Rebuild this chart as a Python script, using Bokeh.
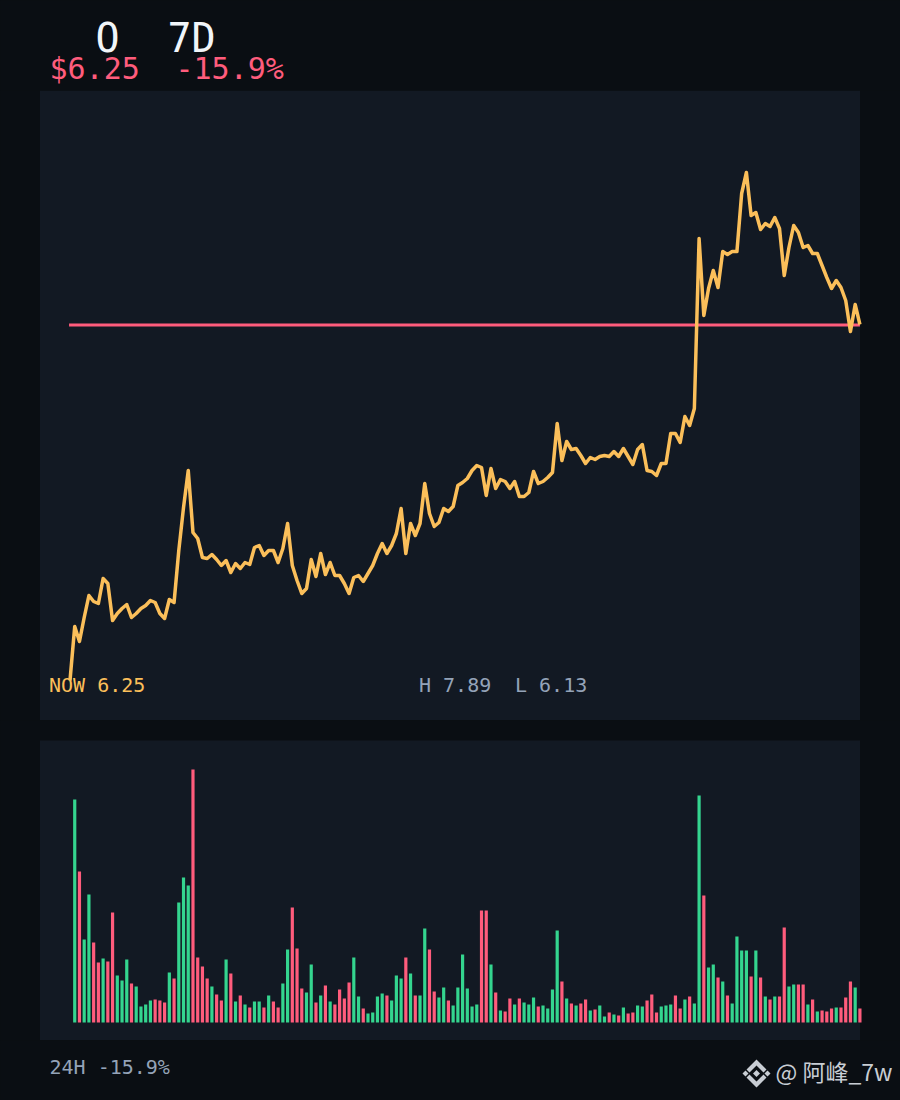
from bokeh.plotting import figure
from bokeh.layouts import column
from bokeh.models import Range1d, Label, BoxAnnotation
from bokeh.embed import file_html
from bokeh.resources import INLINE

# ---- data (price in chart units, volume in chart units) ----
price = [40,94,79,103,125,119,117,142,137,100,107,112,116,103,107,112,115,120,118,107,
         102,121,118,170,213,250,188,182,163,162,166,161,155,160,148,157,152,158,156,173,
         175,165,170,170,158,172,197,155,140,127,132,161,144,167,146,158,145,145,137,127,
         143,145,139,147,155,167,177,167,175,187,212,167,197,185,197,237,207,194,198,212,
         209,214,235,238,242,250,255,253,225,252,232,241,239,232,239,224,224,228,249,237,
         239,243,248,297,260,279,271,272,265,257,263,261,264,265,264,269,264,272,264,256,
         271,276,250,249,245,257,257,287,287,278,304,295,312,482,405,432,450,433,469,466,
         469,469,527,548,505,508,491,497,494,503,492,445,473,495,488,473,475,467,467,455,
         443,432,440,433,420,389,416,396]
reference_price = 395.5

volume = [223,151,83,128,80,60,64,61,110,47,42,63,39,36,16,18,22,23,22,20,
          50,44,120,145,137,253,65,56,44,36,28,22,63,49,21,27,18,15,21,21,
          15,27,21,15,39,73,115,74,34,30,58,20,27,37,21,18,33,24,40,65,
          26,14,9,10,26,29,27,22,47,44,65,49,27,27,94,73,31,25,35,22,
          17,35,68,34,16,18,112,112,58,30,12,11,24,18,24,20,18,25,16,17,
          14,33,92,41,24,19,17,19,23,12,13,17,6,10,8,7,15,9,10,17,
          16,22,28,10,16,17,18,27,14,23,26,19,227,127,55,58,45,41,27,19,
          86,72,72,46,72,45,26,23,26,26,95,36,38,38,38,18,23,11,12,11,
          14,15,15,25,41,35,14]
direction = list("GRGGRRGRRGGGRGGGGRRR" "GRGGGRRRRGRRGRGRGRGG" "RGRRGGRRRGGRGRGRRRRG"
                 "GRGGGGRGGGRGRGGRRGGR" "GGGGGGRRGRGRRGRGGGRG" "GGGRGRGRRGRGGRGRGRRG"
                 "GRRRGGGRRGRGGRGGRGRG" "GGGRGRGRGRRGGRRGRGRRRGRRRGR")

title_left = "O"
title_right = "7D"
price_text = "$6.25"
change_text = "-15.9%"
now_text = "NOW 6.25"
high_text = "H 7.89"
low_text = "L 6.13"
footer_text = "24H -15.9%"
mark_text = "@ 阿峰_7w"

BG = "#0a0e13"
PANEL = "#121923"
AMBER = "#fbbf5a"
RED = "#ff5c7c"
GREEN = "#34d58f"
MUTED = "#94a3b8"
WHITE = "#f1f5f9"
GREY = "#c8cdd4"
MONO = "DejaVu Sans Mono"

W = 900
STEP = 4.73
X0 = -69.5 / STEP
X1 = 830.5 / STEP
PANEL_L = -30 / STEP
PANEL_R = 790 / STEP


def blank(height, x_range, y_range):
    f = figure(width=W, height=height, x_range=x_range, y_range=y_range,
               output_backend="svg", toolbar_location=None, min_border=0,
               background_fill_color=BG, border_fill_color=BG)
    f.xaxis.visible = False
    f.yaxis.visible = False
    f.grid.visible = False
    f.outline_line_color = None
    return f


def label(f, x, y, text, size, color, font=MONO):
    f.add_layout(Label(x=x, y=y, text=text, text_font=font, text_font_size=f"{size}px",
                       text_color=color, text_baseline="alphabetic", text_align="left"))


# ---- header: page coordinates ----
head = blank(90, Range1d(0, 900), Range1d(90, 0))
label(head, 95, 37, title_left, 40, WHITE)
label(head, 167, 37, title_right, 40, WHITE)
label(head, 49, 68, price_text, 30, RED)
label(head, 175, 68, change_text, 30, RED)

# ---- price panel ----
pp = blank(630, Range1d(X0, X1), Range1d(0, 630))
pp.add_layout(BoxAnnotation(left=PANEL_L, right=PANEL_R, fill_color=PANEL, fill_alpha=1,
                            line_color=None, level="underlay"))
pp.segment(x0=[-0.2], x1=[len(price) - 1], y0=[reference_price], y1=[reference_price],
           line_color=RED, line_width=3)
pp.line(list(range(len(price))), price, line_color=AMBER, line_width=3.5, line_join="round")
label(pp, (49 - 70) / STEP, 36, now_text, 20, AMBER)
label(pp, (419 - 70) / STEP, 36, high_text, 20, MUTED)
label(pp, (515 - 70) / STEP, 36, low_text, 20, MUTED)

# ---- volume panel ----
vp = blank(320, Range1d(X0, X1), Range1d(-18, 302))
vp.add_layout(BoxAnnotation(left=PANEL_L, right=PANEL_R, top=282, fill_color=PANEL, fill_alpha=1,
                            line_color=None, level="underlay"))
xs = list(range(1, len(volume) + 1))
colors = [GREEN if d == "G" else RED for d in direction]
vp.vbar(x=xs, top=volume, bottom=0, width=3.2 / STEP, fill_color=colors, line_color=None)

# ---- footer: page coordinates ----
foot = blank(60, Range1d(0, 900), Range1d(1100, 1040))
label(foot, 49, 1066, footer_text, 20, MUTED)
label(foot, 775, 1070, mark_text, 23, GREY, "Noto Sans CJK SC")
cx, cy = 756, 1073
foot.patches(
    xs=[[cx - 14, cx - 11, cx - 8, cx - 11],
        [cx + 14, cx + 11, cx + 8, cx + 11],
        [cx - 3.5, cx, cx + 3.5, cx],
        [cx, cx + 10, cx + 7, cx, cx - 7, cx - 10],
        [cx, cx + 10, cx + 7, cx, cx - 7, cx - 10]],
    ys=[[cy, cy - 3, cy, cy + 3],
        [cy, cy - 3, cy, cy + 3],
        [cy, cy - 3.5, cy, cy + 3.5],
        [cy - 14, cy - 4, cy - 1, cy - 8, cy - 1, cy - 4],
        [cy + 14, cy + 4, cy + 1, cy + 8, cy + 1, cy + 4]],
    fill_color=GREY, line_color=None)

page = column(head, pp, vp, foot, spacing=0)
html = file_html(page, INLINE)
html = html.replace("</head>", f"<style>html,body{{background:{BG};}}</style></head>", 1)
open("out.html", "w").write(html)
